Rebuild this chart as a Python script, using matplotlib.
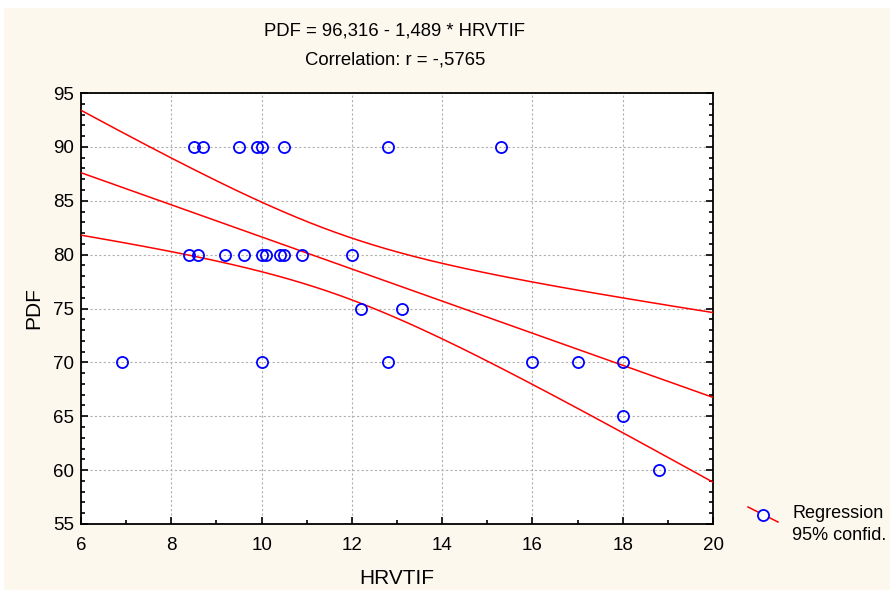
import numpy as np
import matplotlib
matplotlib.use("Agg")
import matplotlib.pyplot as plt
from matplotlib.lines import Line2D
from matplotlib.patches import Rectangle
from matplotlib.ticker import MultipleLocator

plt.rcParams['font.family'] = ['Liberation Sans', 'DejaVu Sans']

# data
hrvtif = [8.5, 8.7, 9.5, 9.9, 10.0, 10.5, 12.8, 15.3,
          8.4, 8.6, 9.2, 9.6, 10.0, 10.1, 10.4, 10.5, 10.9, 12.0,
          12.2, 13.1,
          6.9, 10.0, 12.8, 16.0, 17.0, 18.0,
          18.0,
          18.8]
pdf = [90, 90, 90, 90, 90, 90, 90, 90,
       80, 80, 80, 80, 80, 80, 80, 80, 80, 80,
       75, 75,
       70, 70, 70, 70, 70, 70,
       65,
       60]
title1 = "PDF = 96,316 - 1,489 * HRVTIF"
title2 = "Correlation: r = -,5765"
t_crit = 2.0555  # t(0.975, df=26)

x = np.array(hrvtif)
y = np.array(pdf)
n = len(x)
b, a = np.polyfit(x, y, 1)
resid = y - (a + b * x)
s = np.sqrt(np.sum(resid ** 2) / (n - 2))
sxx = np.sum((x - x.mean()) ** 2)
xs = np.linspace(6, 20, 200)
yh = a + b * xs
half = t_crit * s * np.sqrt(1.0 / n + (xs - x.mean()) ** 2 / sxx)

fig = plt.figure(figsize=(8.9, 5.94), dpi=100)
fig.patch.set_facecolor('white')
fig.add_artist(Rectangle((4 / 890, 4 / 594), 886 / 890, 582 / 594,
                         transform=fig.transFigure, facecolor='#fdf8ee',
                         edgecolor='none', zorder=-10))
ax = fig.add_axes([81 / 890, 70 / 594, 632 / 890, 431 / 594])
ax.set_facecolor('white')

ax.plot(xs, yh, color='red', lw=1.1, zorder=3)
ax.plot(xs, yh + half, color='red', lw=1.1, zorder=3)
ax.plot(xs, yh - half, color='red', lw=1.1, zorder=3)
ax.plot(x, y, 'o', mfc='none', mec='blue', ms=8, mew=1.3, zorder=4, clip_on=False)

ax.set_xlim(6, 20)
ax.set_ylim(55, 95)
ax.xaxis.set_major_locator(MultipleLocator(2))
ax.xaxis.set_minor_locator(MultipleLocator(1))
ax.yaxis.set_major_locator(MultipleLocator(5))
ax.yaxis.set_minor_locator(MultipleLocator(1))
ax.tick_params(which='both', direction='in', right=True, top=False, labelsize=13.5, width=1.2)
ax.tick_params(which='major', length=5)
ax.tick_params(which='minor', length=3)
ax.tick_params(axis='x', pad=9)
ax.tick_params(axis='y', pad=5)
ax.grid(True, which='major', color='#b0b0b0', ls=(0, (2, 2)), lw=0.8)
for sp in ax.spines.values():
    sp.set_linewidth(1.3)

ax.set_xlabel("HRVTIF", fontsize=15, labelpad=11)
ax.set_ylabel("PDF", fontsize=15, labelpad=7)

fig.text(395 / 890, 1 - 31 / 594, title1, ha='center', va='center', fontsize=13.3)
fig.text(395 / 890, 1 - 60 / 594, title2, ha='center', va='center', fontsize=13.3)

# legend
fig.add_artist(Line2D([748 / 890, 778 / 890], [1 - 507 / 594, 1 - 522 / 594],
                      transform=fig.transFigure, color='red', lw=1.1))
fig.add_artist(Line2D([763 / 890], [1 - 514.5 / 594], transform=fig.transFigure,
                      marker='o', mfc='white', mec='blue', ms=8, mew=1.3))
fig.text(792 / 890, 1 - 514 / 594, "Regression", ha='left', va='center', fontsize=13)
fig.text(792 / 890, 1 - 536 / 594, "95% confid.", ha='left', va='center', fontsize=13)

fig.savefig("out.png", dpi=100, facecolor=fig.get_facecolor())
